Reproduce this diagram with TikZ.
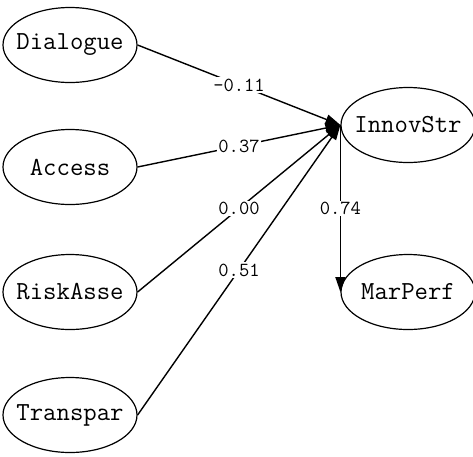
\documentclass[tikz,border=0pt]{standalone}
\usepackage{fontspec}
\usetikzlibrary{arrows.meta, shapes.geometric}

\tikzset{
	var/.style={draw, ellipse, line width=1.2pt, minimum width=134pt, minimum height=75pt,
		inner xsep=-8pt, inner ysep=0pt, font=\ttfamily\fontsize{26}{26}\selectfont},
	coef/.style={fill=white, inner sep=1.5pt, font=\ttfamily\fontsize{20}{20}\selectfont},
	link/.style={line width=1.4pt, -{Triangle[length=15pt,width=10pt]}}
}

\begin{document}
\begin{tikzpicture}[x=1pt, y=-1pt]
\useasboundingbox (0,0) rectangle (473,456);

% Variables
	\node[var] (dialogue) at (70,45)  {Dialogue};
	\node[var] (access)   at (70,167) {Access};
	\node[var] (riskasse) at (70,292) {RiskAsse};
	\node[var] (transpar) at (70,415) {Transpar};
	\node[var] (innovstr) at (408,125) {InnovStr};
	\node[var] (marperf)  at (408,292) {MarPerf};

% Pfade
	\foreach \src/\lab in {dialogue/-0.11, access/0.37, riskasse/0.00, transpar/0.51}
		\draw[link] (\src.east) -- node[coef] {\lab} (innovstr.west);

	\draw[link] (innovstr.west) -- node[coef] {0.74} (marperf.west);
\end{tikzpicture}
\end{document}
